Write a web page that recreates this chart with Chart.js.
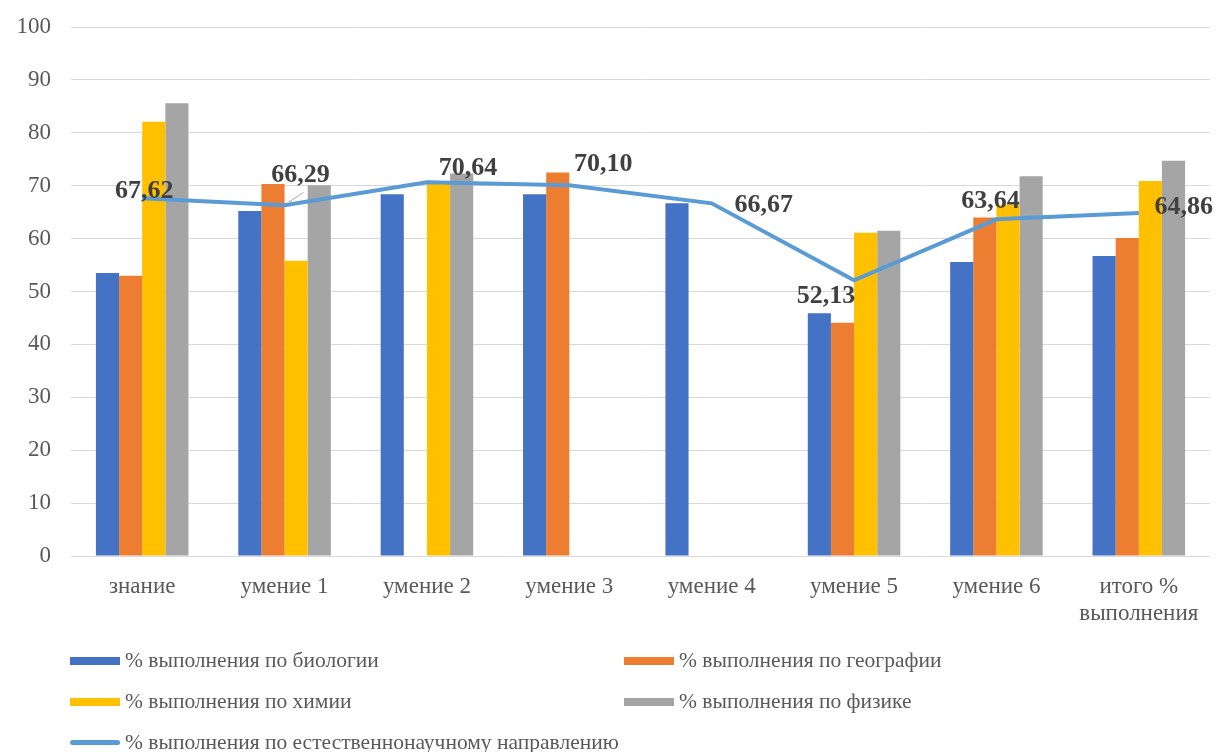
<!DOCTYPE html>
<html>
<head>
<meta charset="utf-8">
<script src="https://cdn.jsdelivr.net/npm/chart.js@4.4.0/dist/chart.umd.min.js"></script>
<style>
html, body { margin: 0; padding: 0; background: #fff; }
#wrap { position: relative; width: 1217px; height: 752px; }
#legend {
	position: absolute; left: 70px; top: 640px;
	display: grid; grid-template-columns: 554px 520px; grid-auto-rows: 41px;
	font-family: "Liberation Serif", serif; font-size: 21.5px; color: #595959;
}
.item { display: flex; align-items: center; white-space: nowrap; }
.sw { width: 50px; height: 8px; margin-right: 5px; }
.sw.line { height: 5px; border-radius: 3px; }
</style>
</head>
<body>
<div id="wrap">
	<canvas id="myChart" width="1217" height="752"></canvas>
	<div id="legend"></div>
</div>
<script>
// categories and values
const categories = ["знание", "умение 1", "умение 2", "умение 3", "умение 4", "умение 5", "умение 6", ["итого %", "выполнения"]];
const biology   = [53.5, 65.2, 68.4, 68.4, 66.7, 45.9, 55.6, 56.7];
const geography = [53.0, 70.3, null, 72.5, null, 44.1, 64.0, 60.1];
const chemistry = [82.1, 55.8, 70.5, null, null, 61.1, 66.4, 70.9];
const physics   = [85.6, 70.1, 72.3, null, null, 61.5, 71.8, 74.7];
const science   = [67.62, 66.29, 70.64, 70.10, 66.67, 52.13, 63.64, 64.86];
const seriesNames = [
	"% выполнения по биологии",
	"% выполнения по географии",
	"% выполнения по химии",
	"% выполнения по физике",
	"% выполнения по естественнонаучному направлению"
];
const yMin = 0, yMax = 100, yStep = 10;

// label placement next to the line points (pixels)
const labelOffsets = [[2, -7], [16, -30], [41, -14], [34, -21], [52, 2], [-28, 16], [-6, -18], [45, -6]];

const FONT = '"Liberation Serif", serif';

const valueLabels = {
	id: "valueLabels",
	afterDatasetsDraw(chart) {
		const meta = chart.getDatasetMeta(4);
		const ctx = chart.ctx;
		ctx.save();
		// small leader line for the second label
		const p1 = meta.data[1];
		ctx.strokeStyle = "#a6a6a6";
		ctx.lineWidth = 1;
		ctx.beginPath();
		ctx.moveTo(p1.x + 4, p1.y - 3);
		ctx.lineTo(p1.x + 19, p1.y - 13);
		ctx.stroke();

		ctx.font = "bold 26px " + FONT;
		ctx.fillStyle = "#404040";
		ctx.textAlign = "center";
		ctx.textBaseline = "middle";
		meta.data.forEach(function(pt, i) {
			const off = labelOffsets[i];
			ctx.fillText(science[i].toFixed(2).replace(".", ","), pt.x + off[0], pt.y + off[1]);
		});
		ctx.restore();
	}
};

const colors = ["#4472C4", "#ED7D31", "#FFC000", "#A5A5A5", "#5B9BD5"];
const barSeries = [biology, geography, chemistry, physics];

const datasets = barSeries.map(function(values, i) {
	return {
		type: "bar",
		label: seriesNames[i],
		data: values,
		backgroundColor: colors[i],
		borderWidth: 0,
		categoryPercentage: 0.65,
		barPercentage: 1,
		order: 1
	};
});
datasets.push({
	type: "line",
	label: seriesNames[4],
	data: science,
	borderColor: colors[4],
	backgroundColor: colors[4],
	borderWidth: 4,
	pointRadius: 0,
	tension: 0,
	order: 0
});

const ctx = document.getElementById("myChart").getContext("2d");
const myChart = new Chart(ctx, {
	type: "bar",
	data: { labels: categories, datasets: datasets },
	options: {
		responsive: false,
		animation: false,
		layout: { padding: { top: 27, right: 7, left: 0, bottom: 0 } },
		plugins: {
			legend: { display: false },
			tooltip: { enabled: false }
		},
		scales: {
			x: {
				grid: { display: false },
				border: { display: false },
				ticks: {
					font: { family: FONT, size: 23 },
					color: "#595959",
					padding: 9,
					maxRotation: 0,
					autoSkip: false
				},
				afterFit: function(s) { s.height = 196; }
			},
			y: {
				min: yMin,
				max: yMax,
				grid: { color: "#D9D9D9", lineWidth: 1, drawTicks: false },
				border: { display: false },
				ticks: {
					stepSize: yStep,
					font: { family: FONT, size: 23 },
					color: "#595959",
					padding: 20
				},
				afterFit: function(s) {
					s.width = 71;
					s.paddingTop = 0;
					s.paddingBottom = 0;
				}
			}
		}
	},
	plugins: [valueLabels]
});

// legend in two columns, built from the datasets
const legend = document.getElementById("legend");
myChart.data.datasets.forEach(function(ds) {
	const item = document.createElement("div");
	item.className = "item";
	const sw = document.createElement("span");
	sw.className = "sw" + (ds.type === "line" ? " line" : "");
	sw.style.background = ds.backgroundColor;
	item.appendChild(sw);
	item.appendChild(document.createTextNode(ds.label));
	legend.appendChild(item);
});
</script>
</body>
</html>
